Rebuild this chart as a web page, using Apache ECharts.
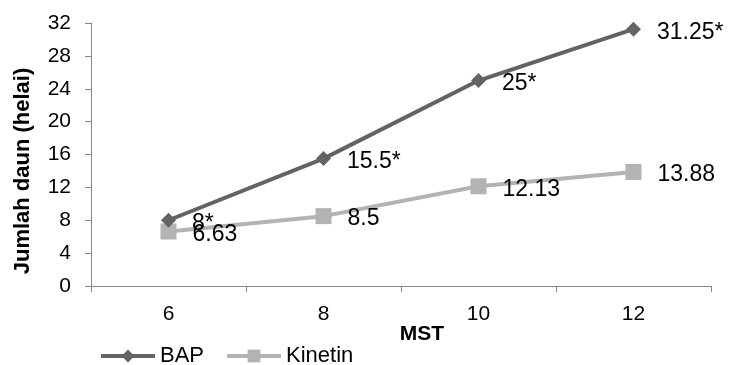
<!DOCTYPE html>
<html>
<head>
<meta charset="utf-8">
<script src="https://cdn.jsdelivr.net/npm/echarts@6/dist/echarts.min.js"></script>
<style>html,body{margin:0;padding:0;background:#fff}#c{width:729px;height:365px}</style>
</head>
<body>
<div id="c"></div>
<script>
var categories = ['6', '8', '10', '12'];
var bapValues = [8, 15.5, 25, 31.25];
var bapLabels = ['8*', '15.5*', '25*', '31.25*'];
var kinetinValues = [6.63, 8.5, 12.13, 13.88];
var kinetinLabels = ['6.63', '8.5', '12.13', '13.88'];
var yTicks = {min: 0, max: 32, interval: 4};

var FONT = '"Liberation Sans", Arial, sans-serif';
var chart = echarts.init(document.getElementById('c'), null, {renderer: 'canvas'});
function lbl(arr) {
  return {
    show: true, position: 'right', distance: 16, offset: [0, 3],
    fontFamily: FONT, fontSize: 23, color: '#000',
    formatter: function (p) { return arr[p.dataIndex]; }
  };
}
chart.setOption({
  animation: false,
  backgroundColor: '#fff',
  grid: {left: 91, right: 18, top: 23, bottom: 79},
  legend: {
    left: 94, top: 340, itemWidth: 54, itemHeight: 16, itemGap: 21,
    lineStyle: {width: 4},
    textStyle: {fontFamily: FONT, fontSize: 22, color: '#000', padding: [0, 0, 0, 0]},
    data: ['BAP', 'Kinetin']
  },
  xAxis: {
    type: 'category', data: categories, boundaryGap: true,
    axisLine: {lineStyle: {color: '#868686', width: 1}},
    axisTick: {show: true, length: 6, alignWithLabel: false, lineStyle: {color: '#868686'}},
    axisLabel: {margin: 18, fontFamily: FONT, fontSize: 21, color: '#000'},
    splitLine: {show: false}
  },
  yAxis: {
    type: 'value', min: yTicks.min, max: yTicks.max, interval: yTicks.interval,
    axisLine: {show: true, lineStyle: {color: '#868686', width: 1}},
    axisTick: {show: true, length: 6, lineStyle: {color: '#868686'}},
    axisLabel: {margin: 20, fontFamily: FONT, fontSize: 21, color: '#000'},
    splitLine: {show: false}
  },
  graphic: [
    {type: 'text', x: 23, y: 171, rotation: Math.PI / 2,
      style: {text: 'Jumlah daun (helai)', fontFamily: FONT, fontSize: 22, fontWeight: 'bold', fill: '#000',
        align: 'center', verticalAlign: 'middle'}},
    {type: 'text', x: 422, y: 334,
      style: {text: 'MST', fontFamily: FONT, fontSize: 21, fontWeight: 'bold', fill: '#000',
        align: 'center', verticalAlign: 'middle'}}
  ],
  series: [
    {
      name: 'BAP', type: 'line', data: bapValues,
      symbol: 'diamond', symbolSize: 15,
      itemStyle: {color: '#636363'},
      lineStyle: {color: '#636363', width: 4},
      label: lbl(bapLabels), z: 3
    },
    {
      name: 'Kinetin', type: 'line', data: kinetinValues,
      symbol: 'rect', symbolSize: 16,
      itemStyle: {color: '#b3b3b3'},
      lineStyle: {color: '#b3b3b3', width: 4},
      label: lbl(kinetinLabels), z: 2
    }
  ]
});
</script>
</body>
</html>
